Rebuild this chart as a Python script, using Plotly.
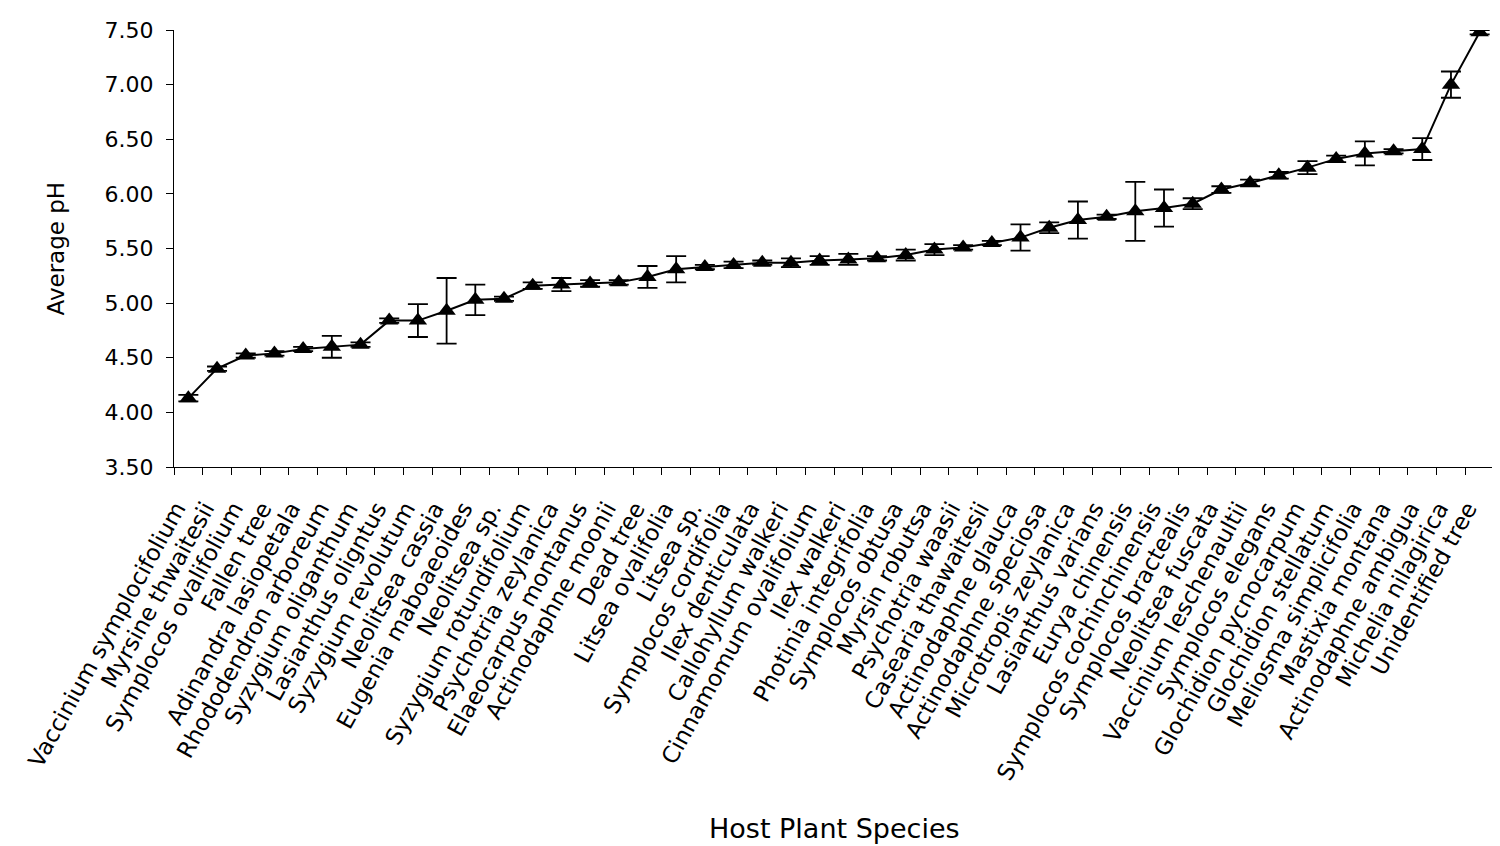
import plotly.graph_objects as go

species = [
    "Vaccinium symplocifolium", "Myrsine thwaitesii", "Symplocos ovalifolium", "Fallen tree",
    "Adinandra lasiopetala", "Rhododendron arboreum", "Syzygium oliganthum", "Lasianthus oligntus",
    "Syzygium revolutum", "Neolitsea cassia", "Eugenia maboaeoides", "Neolitsea sp.",
    "Syzygium rotundifolium", "Psychotria zeylanica", "Elaeocarpus montanus", "Actinodaphne moonii",
    "Dead tree", "Litsea ovalifolia", "Litsea sp.", "Symplocos cordifolia", "Ilex denticulata",
    "Callohyllum walkeri", "Cinnamomum ovalifolium", "Ilex walkeri", "Photinia integrifolia",
    "Symplocos obtusa", "Myrsin robutsa", "Psychotria waasii", "Casearia thawaitesii",
    "Actinodaphne glauca", "Actinodaphne speciosa", "Microtropis zeylanica", "Lasianthus varians",
    "Eurya chinensis", "Symplocos cochinchinensis", "Symplocos bractealis", "Neolitsea fuscata",
    "Vaccinium leschenaultii", "Symplocos elegans", "Glochidion pycnocarpum", "Glochidion stellatum",
    "Meliosma simplicifolia", "Mastixia montana", "Actinodaphne ambigua", "Michelia nilagirica",
    "Unidentified tree",
]

avg_ph = [
    4.13, 4.40, 4.52, 4.54, 4.58, 4.60, 4.62, 4.84, 4.84, 4.93, 5.03, 5.04,
    5.16, 5.17, 5.18, 5.19, 5.24, 5.31, 5.33, 5.35, 5.37, 5.37, 5.39, 5.40,
    5.41, 5.44, 5.49, 5.51, 5.55, 5.60, 5.69, 5.76, 5.79, 5.84, 5.87, 5.91,
    6.04, 6.10, 6.17, 6.24, 6.32, 6.37, 6.39, 6.41, 7.00, 7.48,
]

std_err = [
    0.03, 0.02, 0.02, 0.02, 0.02, 0.10, 0.02, 0.02, 0.15, 0.30, 0.14, 0.02,
    0.03, 0.06, 0.03, 0.02, 0.10, 0.12, 0.02, 0.03, 0.02, 0.04, 0.04, 0.05,
    0.02, 0.05, 0.05, 0.02, 0.02, 0.12, 0.05, 0.17, 0.02, 0.27, 0.17, 0.05,
    0.03, 0.03, 0.03, 0.06, 0.03, 0.11, 0.02, 0.10, 0.12, 0.02,
]

y_ticks = [3.5, 4.0, 4.5, 5.0, 5.5, 6.0, 6.5, 7.0, 7.5]
y_tick_text = ["3.50", "4.00", "4.50", "5.00", "5.50", "6.00", "6.50", "7.00", "7.50"]

x_title = "Host Plant Species"
y_title = "Average pH"

fig = go.Figure()
fig.add_trace(go.Scatter(
    x=species, y=avg_ph,
    mode="lines+markers",
    line=dict(color="black", width=2),
    marker=dict(symbol="triangle-up", size=16, color="black"),
    error_y=dict(type="data", array=std_err, visible=True, color="black", thickness=1.8, width=10),
    showlegend=False,
))

font_family = "DejaVu Sans, Liberation Sans, Arial, sans-serif"
fig.update_layout(
    width=1492, height=838,
    margin=dict(l=166, r=6, t=22, b=379),
    paper_bgcolor="white", plot_bgcolor="white",
    font=dict(family=font_family, color="black", size=20),
    xaxis=dict(
        type="category", range=[-0.5, len(species) - 0.5],
        tickangle=-61, tickfont=dict(size=23, family=font_family),
        ticks="outside", ticklen=7, tickwidth=1, tickcolor="black",
        tickson="boundaries", ticklabelstandoff=18, ticklabelshift=-12,
        showline=True, linecolor="black", linewidth=1.2,
        showgrid=False, zeroline=False,
        automargin=False,
    ),
    yaxis=dict(
        range=[3.5, 7.5], tickvals=y_ticks, ticktext=y_tick_text,
        tickfont=dict(size=22), ticklabelstandoff=8,
        ticks="outside", ticklen=7, tickwidth=1, tickcolor="black",
        showline=True, linecolor="black", linewidth=1.2,
        showgrid=False, zeroline=False,
        automargin=False,
    ),
    annotations=[
        dict(text=x_title, xref="paper", yref="paper", x=0.5, y=0,
             xanchor="center", yanchor="middle", yshift=-361, showarrow=False,
             font=dict(size=27)),
        dict(text=y_title, xref="paper", yref="paper", x=0, y=0.5,
             xanchor="center", yanchor="middle", xshift=-119, textangle=-90,
             showarrow=False, font=dict(size=23)),
    ],
)

fig.write_html("out.html")
